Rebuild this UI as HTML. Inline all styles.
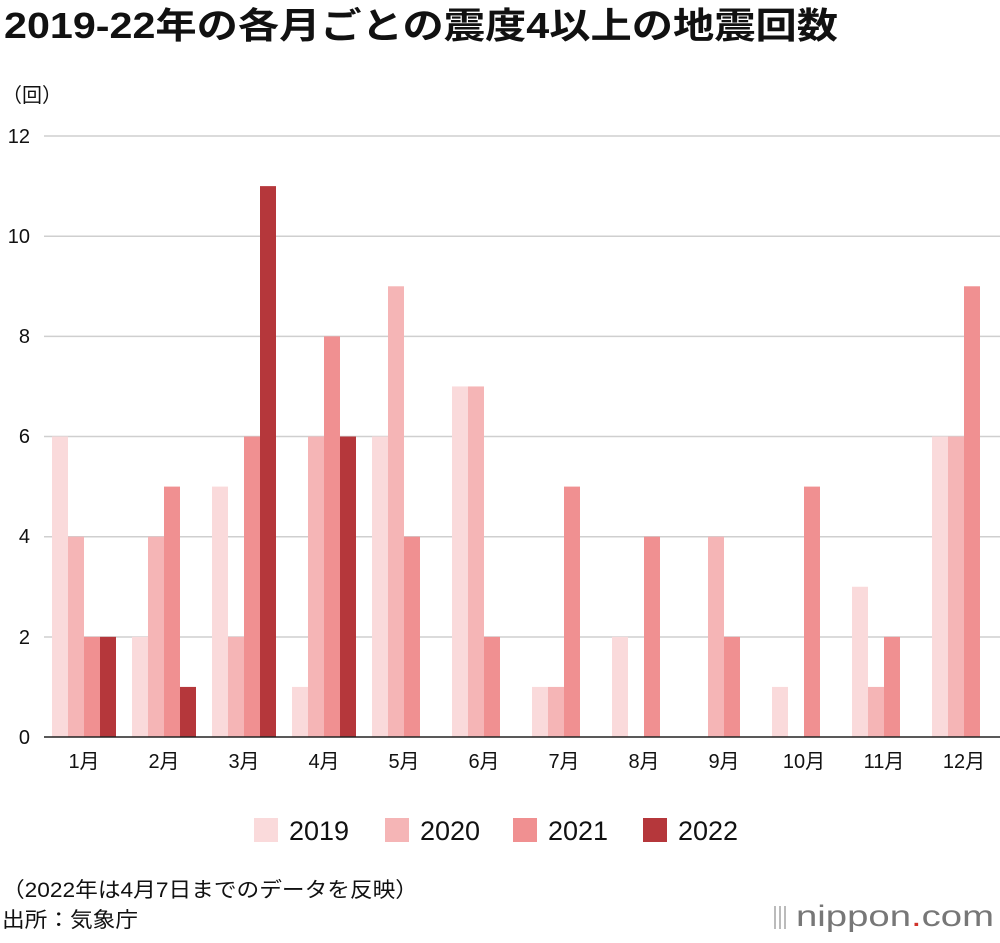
<!DOCTYPE html>
<html><head><meta charset="utf-8"><style>
body{margin:0;background:#fff;}
svg text{font-family:"Liberation Sans","Noto Sans CJK JP",sans-serif;fill:#111;}
</style></head><body>
<svg width="1000" height="938" xmlns="http://www.w3.org/2000/svg">
<text x="4" y="38" font-size="36" font-weight="bold" textLength="834" lengthAdjust="spacingAndGlyphs">2019-22年の各月ごとの震度4以上の地震回数</text>
<text x="2" y="102" font-size="20">（回）</text>
<g stroke="#cfcfcf" stroke-width="1.5">
<line x1="44" x2="1000" y1="136" y2="136"/><line x1="44" x2="1000" y1="236.2" y2="236.2"/>
<line x1="44" x2="1000" y1="336.4" y2="336.4"/><line x1="44" x2="1000" y1="436.5" y2="436.5"/>
<line x1="44" x2="1000" y1="536.8" y2="536.8"/><line x1="44" x2="1000" y1="637" y2="637"/>
</g>
<g font-size="20" text-anchor="end">
<text x="30" y="143">12</text><text x="30" y="243">10</text><text x="30" y="343">8</text>
<text x="30" y="443">6</text><text x="30" y="543">4</text><text x="30" y="644">2</text><text x="30" y="744">0</text>
</g>
<g transform="translate(0,737) scale(1,-50.08)">
<g fill="#fadadb">
<rect x="52" y="0" width="16" height="6"/><rect x="132" y="0" width="16" height="2"/><rect x="212" y="0" width="16" height="5"/><rect x="292" y="0" width="16" height="1"/><rect x="372" y="0" width="16" height="6"/><rect x="452" y="0" width="16" height="7"/><rect x="532" y="0" width="16" height="1"/><rect x="612" y="0" width="16" height="2"/><rect x="772" y="0" width="16" height="1"/><rect x="852" y="0" width="16" height="3"/><rect x="932" y="0" width="16" height="6"/>
</g>
<g fill="#f5b5b6">
<rect x="68" y="0" width="16" height="4"/><rect x="148" y="0" width="16" height="4"/><rect x="228" y="0" width="16" height="2"/><rect x="308" y="0" width="16" height="6"/><rect x="388" y="0" width="16" height="9"/><rect x="468" y="0" width="16" height="7"/><rect x="548" y="0" width="16" height="1"/><rect x="708" y="0" width="16" height="4"/><rect x="868" y="0" width="16" height="1"/><rect x="948" y="0" width="16" height="6"/>
</g>
<g fill="#f09091">
<rect x="84" y="0" width="16" height="2"/><rect x="164" y="0" width="16" height="5"/><rect x="244" y="0" width="16" height="6"/><rect x="324" y="0" width="16" height="8"/><rect x="404" y="0" width="16" height="4"/><rect x="484" y="0" width="16" height="2"/><rect x="564" y="0" width="16" height="5"/><rect x="644" y="0" width="16" height="4"/><rect x="724" y="0" width="16" height="2"/><rect x="804" y="0" width="16" height="5"/><rect x="884" y="0" width="16" height="2"/><rect x="964" y="0" width="16" height="9"/>
</g>
<g fill="#b5373b">
<rect x="100" y="0" width="16" height="2"/><rect x="180" y="0" width="16" height="1"/><rect x="260" y="0" width="16" height="11"/><rect x="340" y="0" width="16" height="6"/>
</g>
</g>
<line x1="44" x2="1000" y1="737" y2="737" stroke="#222" stroke-width="1.5"/>
<g font-size="20" text-anchor="middle">
<text x="84" y="768">1月</text><text x="164" y="768">2月</text><text x="244" y="768">3月</text><text x="324" y="768">4月</text><text x="404" y="768">5月</text><text x="484" y="768">6月</text><text x="564" y="768">7月</text><text x="644" y="768">8月</text><text x="724" y="768">9月</text><text x="804" y="768">10月</text><text x="884" y="768">11月</text><text x="964" y="768">12月</text>
</g>
<g font-size="27">
<rect x="254" y="818" width="24" height="24" fill="#fadadb"/><text x="289" y="840">2019</text>
<rect x="385" y="818" width="24" height="24" fill="#f5b5b6"/><text x="420" y="840">2020</text>
<rect x="513" y="818" width="24" height="24" fill="#f09091"/><text x="548" y="840">2021</text>
<rect x="643" y="818" width="24" height="24" fill="#b5373b"/><text x="678" y="840">2022</text>
</g>
<text x="2" y="897" font-size="21" textLength="416" lengthAdjust="spacingAndGlyphs">（2022年は4月7日までのデータを反映）</text>
<text x="2" y="927" font-size="21" textLength="136" lengthAdjust="spacingAndGlyphs">出所：気象庁</text>
<g fill="#bbb"><rect x="774" y="906" width="2" height="23"/><rect x="779" y="906" width="2" height="23"/><rect x="784" y="906" width="2" height="23"/></g>
<text x="796" y="926" font-size="30" textLength="198" lengthAdjust="spacingAndGlyphs" style="fill:#777">nippon<tspan style="fill:#d0342c">.</tspan>com</text>
</svg>
</body></html>
